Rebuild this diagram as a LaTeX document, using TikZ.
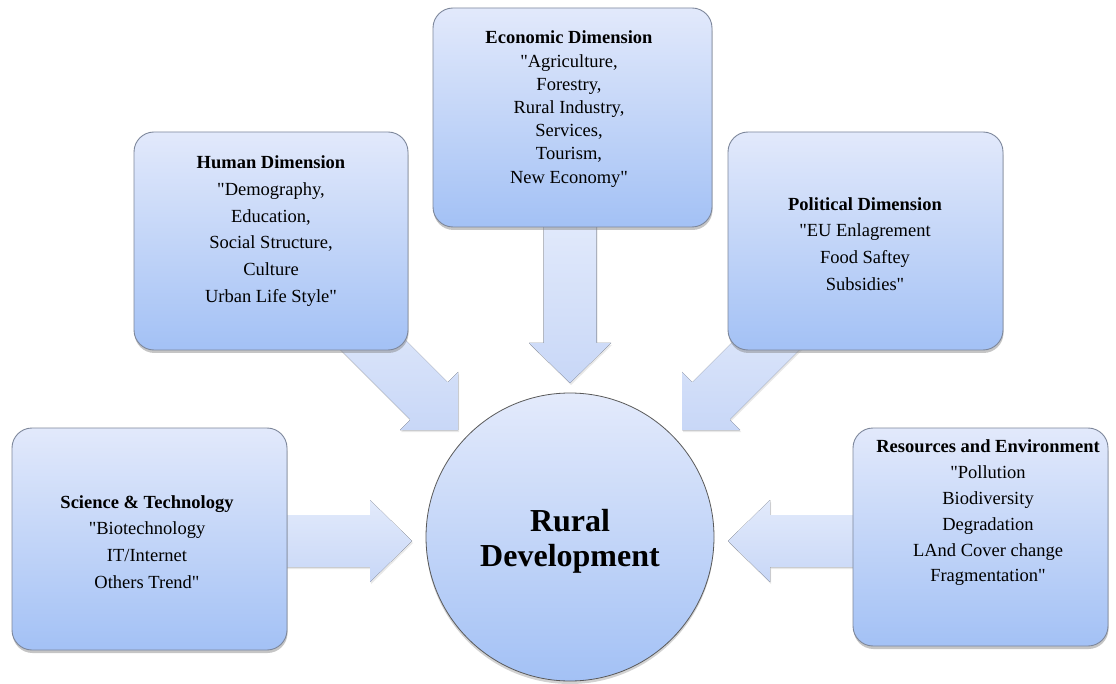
\documentclass[tikz,border=0pt]{standalone}
\usepackage{fontspec}
\setmainfont{Liberation Serif}[Ligatures=TeXOff]
\usetikzlibrary{shadows}
\definecolor{boxtop}{RGB}{226,233,251}
\definecolor{boxbot}{RGB}{163,193,245}
\definecolor{arrtop}{RGB}{226,234,251}
\definecolor{arrbot}{RGB}{200,215,247}
\definecolor{boxline}{RGB}{125,135,155}
\tikzset{
  panel/.style={draw=boxline, line width=0.9pt, rounded corners=20pt,
    top color=boxtop, bottom color=boxbot,
    drop shadow={opacity=0.45, shadow xshift=0.5pt, shadow yshift=-3pt},
    inner sep=0pt},
  paneltext/.style={align=center, font=\fontsize{18.5}{26.7}\selectfont, inner sep=0pt},
  blockarrow/.style={top color=arrtop, bottom color=arrbot, draw=none,
    drop shadow={opacity=0.18, shadow xshift=1pt, shadow yshift=-2pt}},
  hub/.style={circle, draw=gray!70!black, line width=0.8pt,
    top color=boxtop!95!white, bottom color=boxbot,
    drop shadow={opacity=0.35, shadow xshift=0pt, shadow yshift=-3pt},
    minimum size=288pt, inner sep=0pt}
}
\begin{document}
\begin{tikzpicture}[x=1pt,y=-1pt]
\useasboundingbox (0,0) rectangle (1116,684);
\fill[white] (0,0) rectangle (1116,684);

% tips of the block arrows
\coordinate (tipT) at (570,383);
\coordinate (tipL) at (412,541);
\coordinate (tipR) at (728,541);
\coordinate (tipTL) at (458,430);
\coordinate (tipTR) at (682,430);

% block arrows (drawn first, boxes overlap their tails)
\fill[blockarrow] (543.5,215) -- (596.5,215) -- (596.5,343) -- (611,343) -- (tipT) -- (529,343) -- (543.5,343) -- cycle;
\fill[blockarrow] (280,515) -- (370,515) -- (370,500) -- (tipL) -- (370,582) -- (370,567) -- (280,567) -- cycle;
\fill[blockarrow] (860,515) -- (770,515) -- (770,500) -- (tipR) -- (770,582) -- (770,567) -- (860,567) -- cycle;
\fill[blockarrow] (358.7,293.3) -- (447.7,382.3) -- (458,372) -- (tipTL) -- (400,430) -- (410.3,419.7) -- (321.3,330.7) -- cycle;
\fill[blockarrow] (781.3,293.3) -- (692.3,382.3) -- (682,372) -- (tipTR) -- (740,430) -- (729.7,419.7) -- (818.7,330.7) -- cycle;

% panels
\node[panel, minimum width=274pt, minimum height=218pt] (hum) at (271,241) {};
\node[panel, minimum width=279pt, minimum height=219pt] (eco) at (572.5,117.5) {};
\node[panel, minimum width=275pt, minimum height=218pt] (pol) at (865.5,241) {};
\node[panel, minimum width=275pt, minimum height=222pt] (sci) at (149.5,539) {};
\node[panel, minimum width=255pt, minimum height=218pt] (res) at (980.5,537) {};

% centre
\node[hub] (rd) at (570,537) {};
\node[align=center, font=\fontsize{32}{35}\selectfont\bfseries, inner sep=0pt] (rdt) at (570,541) {Rural\\Development};

% panel texts
\node[paneltext] (humt) at (271,231) {\textbf{Human Dimension}\\"Demography,\\Education,\\Social Structure,\\Culture\\Urban Life Style"};
\node[paneltext, font=\fontsize{18.5}{23.2}\selectfont] (ecot) at (569,109) {\textbf{Economic Dimension}\\"Agriculture,\\Forestry,\\Rural Industry,\\Services,\\Tourism,\\New Economy"};
\node[paneltext] (polt) at (865,244) {\textbf{Political Dimension}\\"EU Enlagrement\\Food Saftey\\Subsidies"};
\node[paneltext] (scit) at (147,542) {\textbf{Science \& Technology}\\"Biotechnology\\IT/Internet\\Others Trend"};
\node[paneltext, font=\fontsize{18.5}{25.8}\selectfont] (rest) at (988,513) {\textbf{Resources and Environment}\\"Pollution\\Biodiversity\\Degradation\\LAnd Cover change\\Fragmentation"};
\end{tikzpicture}
\end{document}
